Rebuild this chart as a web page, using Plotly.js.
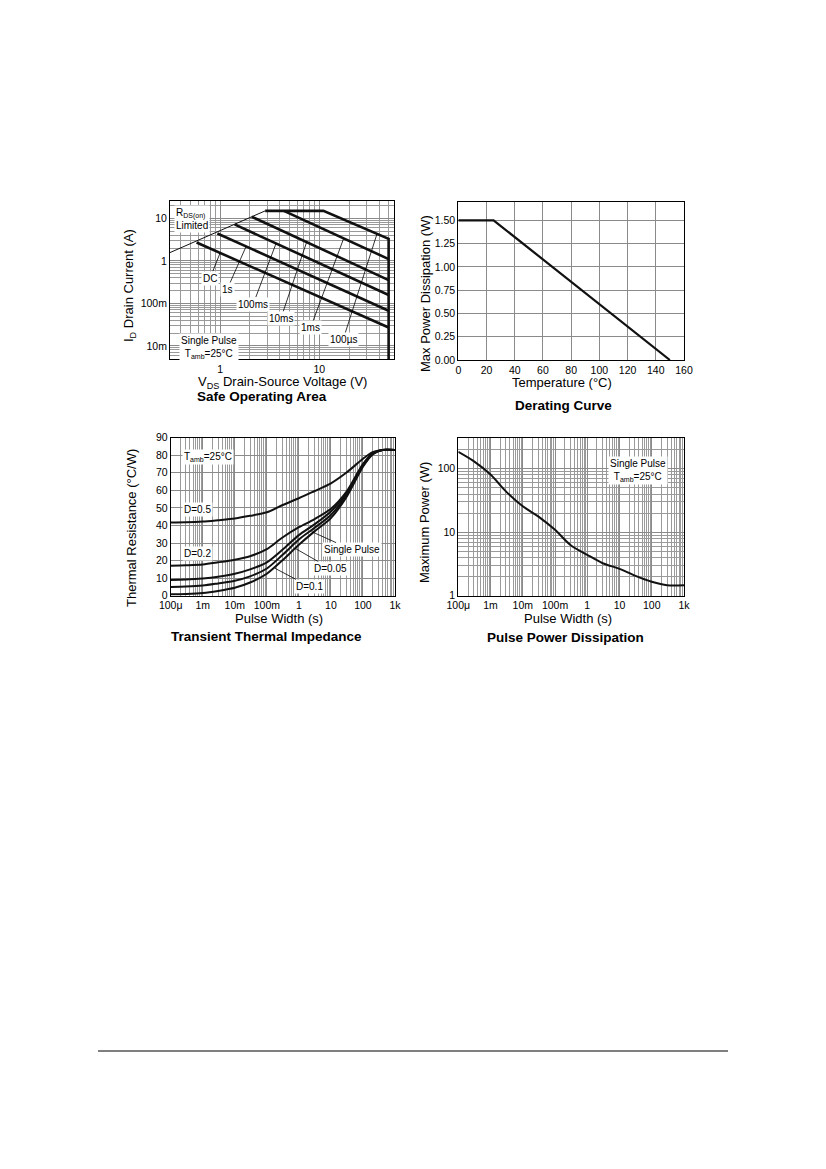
<!DOCTYPE html>
<html>
<head>
<meta charset="utf-8">
<script src="https://cdn.plot.ly/plotly-3.0.1.min.js"></script>
<style>html,body{margin:0;padding:0;background:#fff;overflow:hidden;}#chart{width:826px;height:1169px;}</style>
</head>
<body>
<div id="chart"></div>
<script>
// ---------- Safe Operating Area ----------
const soaRdsV = [0.31, 2.85];
const soaRdsI = [1.55, 15];
const soaLimitV = [2.85, 11, 50, 50];
const soaLimitI = [15, 15, 3.3, 0.004];
const soaLineNames = ['DC', '1s', '100ms', '10ms', '1ms'];
const soaStartV = [0.58, 0.94, 1.4, 2.09, 4.4];
const soaStartI = [2.7, 4.4, 7.2, 10.9, 15];
const soaEndV = [50, 50, 50, 50, 50];
const soaEndI = [0.027, 0.067, 0.157, 0.353, 1.1];
const soaLabelNames = ['DC', '1s', '100ms', '10ms', '1ms', '100µs'];
const soaLabelTipV = [1.0, 1.83, 3.68, 7.51, 17.6, 38.3];
const soaLabelTipI = [1.52, 2.18, 2.62, 2.89, 3.35, 4.41];

// ---------- Derating Curve ----------
const derTemp = [0, 25, 150];
const derPower = [1.5, 1.5, 0];

// ---------- Transient Thermal Impedance ----------
const ttPulse = [1e-4, 3e-4, 1e-3, 3e-3, 1e-2, 3e-2, 0.1, 0.3, 1, 3, 10, 30, 100, 200, 400, 1000];
const ttD05 = [41.7, 41.8, 42.2, 43, 44, 45.5, 47.5, 51.5, 55.5, 59.5, 64, 70, 78, 81.8, 83, 83];
const ttD02 = [17, 17.3, 17.8, 19, 20.5, 22.5, 26.5, 33, 39, 43.5, 49.5, 59, 75, 81, 83, 83];
const ttD01 = [9, 9.2, 9.8, 10.8, 12.5, 15, 19, 26, 34.5, 40.5, 48, 58, 74.5, 81, 83, 83];
const ttD005 = [5, 5.2, 5.8, 7, 8.5, 11, 15.5, 23, 32, 38.5, 46, 57, 74, 80.8, 83, 83];
const ttSingle = [0.8, 1, 1.5, 2.7, 4.5, 7.5, 12.5, 20, 29, 36.5, 44.2, 56, 73.5, 80.5, 83, 83];
const ttLabelNames = ['Single Pulse', 'D=0.05', 'D=0.1'];
const ttLabelTipX = [2.5, 0.76, 0.18];
const ttLabelTipY = [36.5, 27, 15.6];

// ---------- Pulse Power Dissipation ----------
const ppPulse = [1e-4, 3e-4, 1e-3, 3e-3, 1e-2, 3e-2, 0.1, 0.3, 1, 3, 10, 30, 100, 300, 1000];
const ppPower = [185, 132, 81, 44, 25.6, 17.8, 10.9, 6.3, 4.4, 3.25, 2.65, 2.07, 1.66, 1.46, 1.46];

// ---------- tick label names (SI style) ----------
const siLabels = {'0.0001': '100µ', '0.001': '1m', '0.01': '10m', '0.1': '100m', '1000': '1k'};

// ---------- layout helpers ----------
const FW = 826, FH = 1169;
function dx(l, r) { return [l / FW, r / FW]; }
function dy(t, b) { return [1 - b / FH, 1 - t / FH]; }
function px(x) { return x / FW; }
function py(y) { return 1 - y / FH; }

const FONT = 'Liberation Sans, Arial, Helvetica, sans-serif';
const INK = '#111';

const traces = [];
// SOA
traces.push({x: soaRdsV, y: soaRdsI, xaxis: 'x', yaxis: 'y', mode: 'lines', line: {color: INK, width: 1}, hoverinfo: 'skip'});
traces.push({x: soaLimitV, y: soaLimitI, xaxis: 'x', yaxis: 'y', mode: 'lines', line: {color: INK, width: 2.6}, hoverinfo: 'skip'});
for (let i = 0; i < soaLineNames.length; i++) {
  traces.push({x: [soaStartV[i], soaEndV[i]], y: [soaStartI[i], soaEndI[i]], xaxis: 'x', yaxis: 'y', mode: 'lines', name: soaLineNames[i], line: {color: INK, width: 2.6}, hoverinfo: 'skip'});
}
// Derating
traces.push({x: derTemp, y: derPower, xaxis: 'x2', yaxis: 'y2', mode: 'lines', line: {color: INK, width: 2.2}, hoverinfo: 'skip'});
// Transient
[ttD05, ttD02, ttD01, ttD005, ttSingle].forEach(function (s) {
  traces.push({x: ttPulse, y: s, xaxis: 'x3', yaxis: 'y3', mode: 'lines', line: {color: INK, width: 2, shape: 'spline', smoothing: 0.8}, hoverinfo: 'skip'});
});
// Pulse power
traces.push({x: ppPulse, y: ppPower, xaxis: 'x4', yaxis: 'y4', mode: 'lines', line: {color: INK, width: 2, shape: 'spline', smoothing: 0.8}, hoverinfo: 'skip'});

const base = {showline: true, mirror: true, linecolor: '#000', linewidth: 1, ticks: '', gridcolor: '#8a8a8a', gridwidth: 1,
  zeroline: false, tickfont: {size: 10.5, color: '#000', family: FONT}, fixedrange: true, automargin: false};
function logAxis(extra) {
  return Object.assign({}, base, {type: 'log', dtick: 1, labelalias: siLabels,
    minor: {dtick: 'D1', showgrid: true, gridcolor: '#9a9a9a', gridwidth: 1, ticks: ''}}, extra);
}
function linAxis(extra) { return Object.assign({}, base, extra); }

const layout = {
  width: FW, height: FH, margin: {l: 0, r: 0, t: 0, b: 0, autoexpand: false}, showlegend: false,
  paper_bgcolor: '#fff', plot_bgcolor: '#fff', font: {family: FONT, color: '#000'},
  xaxis: logAxis({domain: dx(170, 393.5), anchor: 'y', range: [Math.log10(0.313), Math.log10(56)]}),
  yaxis: logAxis({domain: dy(200.5, 359), anchor: 'x', range: [-2.31, 1.42]}),
  xaxis2: linAxis({domain: dx(458.3, 684), anchor: 'y2', range: [0, 160], dtick: 20}),
  yaxis2: linAxis({domain: dy(201.7, 360), anchor: 'x2', range: [0, 1.7], dtick: 0.25, tickformat: '.2f'}),
  xaxis3: logAxis({domain: dx(170.7, 395), anchor: 'y3', range: [-4, 3]}),
  yaxis3: linAxis({domain: dy(437.7, 595.7), anchor: 'x3', range: [0, 90], dtick: 10}),
  xaxis4: logAxis({domain: dx(458.3, 684), anchor: 'y4', range: [-4, 3]}),
  yaxis4: logAxis({domain: dy(438.3, 595.7), anchor: 'x4', range: [0, 2.48]}),
  annotations: [],
  shapes: [{type: 'line', xref: 'paper', yref: 'paper', x0: px(98), x1: px(728), y0: py(1051), y1: py(1051), line: {color: '#000', width: 1}}]
};

const lblFont = {size: 10, color: '#000', family: FONT};
const capFont = {size: 13.5, color: '#000', family: FONT};
const titleFont = {size: 13, color: '#000', family: FONT};
function boxLabel(text, x, y, extra) {
  return Object.assign({text: text, x: px(x), y: py(y), xref: 'paper', yref: 'paper', xanchor: 'center', yanchor: 'middle',
    showarrow: false, bgcolor: '#fff', borderpad: 1, font: lblFont}, extra || {});
}
function paperText(text, x, y, font, angle) {
  return {text: text, x: px(x), y: py(y), xref: 'paper', yref: 'paper', xanchor: 'center', yanchor: 'middle',
    showarrow: false, font: font, textangle: angle || 0};
}

// axis titles
layout.annotations.push(paperText('V<sub>DS</sub> Drain-Source Voltage (V)', 282, 382, titleFont));
layout.annotations.push(paperText('I<sub>D</sub> Drain Current (A)', 130, 286, titleFont, -90));
layout.annotations.push(paperText('Temperature (°C)', 562, 382, titleFont));
layout.annotations.push(paperText('Max Power Dissipation (W)', 425, 294, titleFont, -90));
layout.annotations.push(paperText('Pulse Width (s)', 279, 618, titleFont));
layout.annotations.push(paperText('Thermal Resistance (°C/W)', 131, 528, titleFont, -90));
layout.annotations.push(paperText('Pulse Width (s)', 568, 618, titleFont));
layout.annotations.push(paperText('Maximum Power (W)', 425, 523, titleFont, -90));

// SOA labels with leaders
const soaOffsets = [[-10, 25], [-19, 43], [-23, 61], [-26, 77], [-33, 89], [-34, 106]];
for (let i = 0; i < soaLabelNames.length; i++) {
  layout.annotations.push({text: soaLabelNames[i], x: Math.log10(soaLabelTipV[i]), y: Math.log10(soaLabelTipI[i]), xref: 'x', yref: 'y',
    showarrow: true, arrowhead: 0, arrowwidth: 0.8, arrowcolor: '#000', ax: soaOffsets[i][0], ay: soaOffsets[i][1], standoff: 0,
    xanchor: 'center', yanchor: 'middle', bgcolor: '#fff', borderpad: 1, font: lblFont});
}
layout.annotations.push(boxLabel('R<sub>DS(on)</sub><br>Limited', 174, 205, {xanchor: 'left', yanchor: 'top', align: 'left'}));
layout.annotations.push(boxLabel('Single Pulse<br>T<sub>amb</sub>=25°C', 209, 347, {align: 'center'}));

// Transient labels
layout.annotations.push(boxLabel('T<sub>amb</sub>=25°C', 207.5, 457));
layout.annotations.push(boxLabel('D=0.5', 197, 510));
layout.annotations.push(boxLabel('D=0.2', 197, 553));
const ttOffsets = [[40, 18], [35, 20], [34, 18]];
for (let i = 0; i < ttLabelNames.length; i++) {
  layout.annotations.push({text: ttLabelNames[i], x: Math.log10(ttLabelTipX[i]), y: ttLabelTipY[i], xref: 'x3', yref: 'y3',
    showarrow: true, arrowhead: 0, arrowwidth: 0.8, arrowcolor: '#000', ax: ttOffsets[i][0], ay: ttOffsets[i][1], standoff: 0,
    xanchor: 'center', yanchor: 'middle', bgcolor: '#fff', borderpad: 1, font: lblFont});
}
// Pulse power label
layout.annotations.push(boxLabel('Single Pulse<br>T<sub>amb</sub>=25°C', 638, 470, {align: 'center'}));

// Captions
layout.annotations.push(paperText('<b>Safe Operating Area</b>', 262, 396, capFont));
layout.annotations.push(paperText('<b>Derating Curve</b>', 563, 405, capFont));
layout.annotations.push(paperText('<b>Transient Thermal Impedance</b>', 266, 636, capFont));
layout.annotations.push(paperText('<b>Pulse Power Dissipation</b>', 565, 637, capFont));

Plotly.newPlot('chart', traces, layout, {staticPlot: true, displayModeBar: false});
</script>
</body>
</html>
